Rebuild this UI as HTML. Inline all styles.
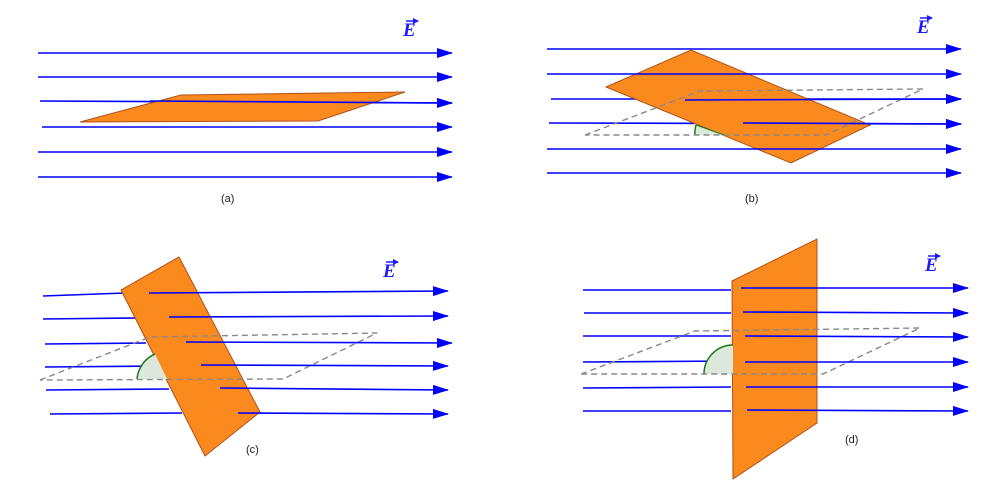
<!DOCTYPE html>
<html><head><meta charset="utf-8"><style>
html,body{margin:0;padding:0;background:#fff;}
svg{display:block;}
text{font-family:"Liberation Sans",sans-serif;}
.E{font-family:"Liberation Serif",serif;font-weight:bold;font-style:italic;font-size:19px;fill:#1a1aff;}
</style></head><body>
<svg width="1001" height="486" viewBox="0 0 1001 486" xmlns="http://www.w3.org/2000/svg">
<defs>
<marker id="ar" markerWidth="16" markerHeight="10" refX="15" refY="5" orient="auto" markerUnits="userSpaceOnUse">
<path d="M0,0 L16,5 L0,10 Z" fill="#0000ff"/></marker>
<marker id="va" markerWidth="6" markerHeight="6" refX="5" refY="3" orient="auto" markerUnits="userSpaceOnUse">
<path d="M0,0 L6,3 L0,6 Z" fill="#1a1aff"/></marker>
</defs>
<g stroke="#0000ff" stroke-width="1.6" fill="none">
<line x1="38" y1="53" x2="452" y2="53" marker-end="url(#ar)"/>
<line x1="38" y1="77" x2="452" y2="77" marker-end="url(#ar)"/>
<line x1="40" y1="101" x2="452" y2="103" marker-end="url(#ar)"/>
<line x1="42" y1="127" x2="452" y2="127" marker-end="url(#ar)"/>
<line x1="38" y1="152" x2="452" y2="152" marker-end="url(#ar)"/>
<line x1="38" y1="177" x2="452" y2="177" marker-end="url(#ar)"/>
</g>
<polygon points="80,122 181,95 405,92 318,121" fill="#fb8a1e" stroke="#b0501a" stroke-width="1"/>
<line x1="150" y1="101" x2="452" y2="103" stroke="#0000ff" stroke-width="1.6" marker-end="url(#ar)"/>
<text x="403" y="36" class="E">E</text><line x1="406" y1="21" x2="418" y2="21" stroke="#1a1aff" stroke-width="1.5" marker-end="url(#va)"/>
<text x="221" y="202" font-size="11" fill="#222">(a)</text>

<!-- (b) -->
<g stroke="#0000ff" stroke-width="1.6" fill="none">
<line x1="547" y1="49" x2="961" y2="49" marker-end="url(#ar)"/>
<line x1="551" y1="99" x2="961" y2="99" marker-end="url(#ar)"/>
<line x1="549" y1="123" x2="961" y2="124" marker-end="url(#ar)"/>
<line x1="547" y1="173" x2="961" y2="173" marker-end="url(#ar)"/>
</g>
<polygon points="606,87 691,50 870,125 791,163" fill="#fb8a1e" stroke="#b0501a" stroke-width="1"/>
<path d="M724,135 L695,135 A29,29 0 0 1 696,125 Z" fill="#dde8dd" stroke="none"/>
<path d="M695,135 A29,29 0 0 1 696,125" fill="none" stroke="#1a7a1a" stroke-width="1.5"/>
<line x1="696" y1="125" x2="724" y2="135" stroke="#1a7a1a" stroke-width="1"/>
<polygon points="585,135 700,91 923,89 826,135" fill="none" stroke="#888" stroke-width="1.4" stroke-dasharray="6,4"/>
<g stroke="#0000ff" stroke-width="1.6" fill="none">
<line x1="547" y1="74" x2="961" y2="74" marker-end="url(#ar)"/>
<line x1="685" y1="100" x2="961" y2="99" marker-end="url(#ar)"/>
<line x1="743" y1="123" x2="961" y2="124" marker-end="url(#ar)"/>
<line x1="547" y1="149" x2="961" y2="149" marker-end="url(#ar)"/>
</g>
<text x="917" y="33" class="E">E</text><line x1="920" y1="18" x2="932" y2="18" stroke="#1a1aff" stroke-width="1.5" marker-end="url(#va)"/>
<text x="745" y="202" font-size="11" fill="#222">(b)</text>

<!-- (c) -->
<g stroke="#0000ff" stroke-width="1.6" fill="none">
<line x1="43" y1="296" x2="125" y2="293"/>
<line x1="43" y1="319" x2="136" y2="318"/>
<line x1="45" y1="344" x2="146" y2="343"/>
<line x1="45" y1="367" x2="159" y2="366"/>
<line x1="46" y1="390" x2="169" y2="389"/>
<line x1="50" y1="414" x2="182" y2="413"/>
</g>
<polygon points="121,290 179,257 260,412 205,456" fill="#fb8a1e" stroke="#b0501a" stroke-width="1"/>
<path d="M167,379 L137,379 A30,30 0 0 1 155,354 Z" fill="#dde8dd" stroke="none"/>
<path d="M137,379 A30,30 0 0 1 155,354" fill="none" stroke="#1a7a1a" stroke-width="1.5"/>
<polygon points="40,380 150,337 377,333 283,379" fill="none" stroke="#888" stroke-width="1.4" stroke-dasharray="6,4"/>
<g stroke="#0000ff" stroke-width="1.6" fill="none">
<line x1="149" y1="293" x2="448" y2="291" marker-end="url(#ar)"/>
<line x1="169" y1="317" x2="448" y2="316" marker-end="url(#ar)"/>
<line x1="186" y1="342" x2="452" y2="343" marker-end="url(#ar)"/>
<line x1="201" y1="365" x2="448" y2="366" marker-end="url(#ar)"/>
<line x1="220" y1="388" x2="448" y2="390" marker-end="url(#ar)"/>
<line x1="238" y1="413" x2="448" y2="414" marker-end="url(#ar)"/>
</g>
<text x="383" y="277" class="E">E</text><line x1="386" y1="262" x2="398" y2="262" stroke="#1a1aff" stroke-width="1.5" marker-end="url(#va)"/>
<text x="246" y="453" font-size="11" fill="#222">(c)</text>

<!-- (d) -->
<g stroke="#0000ff" stroke-width="1.6" fill="none">
<line x1="583" y1="290" x2="731" y2="290"/>
<line x1="584" y1="313" x2="731" y2="313"/>
<line x1="583" y1="336" x2="731" y2="336"/>
<line x1="583" y1="362" x2="731" y2="361"/>
<line x1="583" y1="388" x2="731" y2="387"/>
<line x1="583" y1="411" x2="731" y2="411"/>
</g>
<polygon points="732,281 817,239 817,423 733,479" fill="#fb8a1e" stroke="#b0501a" stroke-width="1"/>
<path d="M733,374 L704,374 A29,29 0 0 1 733,345 Z" fill="#dde8dd" stroke="none"/>
<path d="M704,374 A29,29 0 0 1 733,345" fill="none" stroke="#1a7a1a" stroke-width="1.5"/>
<polygon points="581,374 695,331 920,328 823,374" fill="none" stroke="#888" stroke-width="1.4" stroke-dasharray="6,4"/>
<g stroke="#0000ff" stroke-width="1.6" fill="none">
<line x1="741" y1="288" x2="968" y2="288" marker-end="url(#ar)"/>
<line x1="743" y1="312" x2="968" y2="313" marker-end="url(#ar)"/>
<line x1="745" y1="336" x2="968" y2="337" marker-end="url(#ar)"/>
<line x1="745" y1="362" x2="968" y2="362" marker-end="url(#ar)"/>
<line x1="746" y1="387" x2="968" y2="387" marker-end="url(#ar)"/>
<line x1="747" y1="410" x2="968" y2="411" marker-end="url(#ar)"/>
</g>
<text x="925" y="271" class="E">E</text><line x1="928" y1="256" x2="940" y2="256" stroke="#1a1aff" stroke-width="1.5" marker-end="url(#va)"/>
<text x="845" y="443" font-size="11" fill="#222">(d)</text>
</svg>
</body></html>
